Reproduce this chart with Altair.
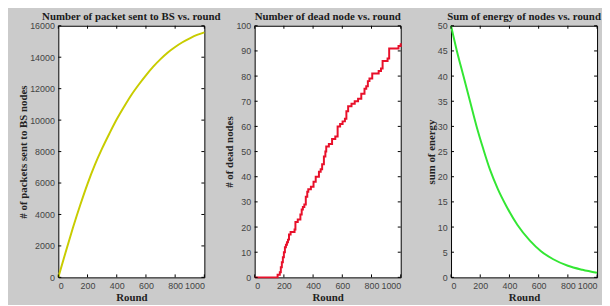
import altair as alt
import pandas as pd

# ---- data ----
pk_round = [0, 50, 100, 150, 200, 250, 300, 350, 400, 450, 500, 550, 600, 650, 700, 750, 800, 850, 900, 950, 1000]
pk_value = [0, 1600, 3150, 4600, 5950, 7150, 8200, 9150, 10050, 10850, 11600, 12250, 12850, 13400, 13880, 14300, 14650, 14950, 15200, 15420, 15580]

dead_round = [0, 157, 172, 179, 186, 193, 200, 207, 214, 221, 228, 235, 246, 273, 279, 295, 313, 322, 330, 340, 350, 360, 367, 385, 403, 418, 440, 452, 462, 474, 484, 490, 508, 530, 552, 568, 585, 602, 618, 628, 640, 663, 685, 708, 730, 752, 764, 775, 786, 805, 849, 865, 876, 910, 921, 985, 1000]
dead_value = [0, 1, 2, 4, 6, 8, 10, 12, 13, 14, 15, 17, 18, 19, 22, 23, 25, 27, 28, 29, 32, 34, 35, 36, 38, 40, 42, 43, 45, 48, 50, 52, 53, 55, 56, 60, 61, 62, 63, 66, 68, 69, 70, 71, 73, 75, 76, 78, 79, 81, 82, 83, 86, 87, 91, 92, 93]

en_round = [0, 40, 85, 130, 175, 220, 268, 320, 380, 455, 540, 616, 700, 800, 900, 1000]
en_value = [50, 45, 40, 35, 30, 25.6, 21.3, 17.6, 14.1, 10.4, 7.3, 5.2, 3.6, 2.3, 1.5, 0.9]

x_ticks = [0, 200, 400, 600, 800, 1000]
pk_ticks = [0, 2000, 4000, 6000, 8000, 10000, 12000, 14000, 16000]
dead_ticks = [0, 10, 20, 30, 40, 50, 60, 70, 80, 90, 100]
en_ticks = [0, 5, 10, 15, 20, 25, 30, 35, 40, 45, 50]

titles = ["Number of packet sent to BS vs. round",
          "Number of dead node vs. round",
          "Sum of energy of nodes vs. round"]
y_titles = ["# of packets sent to BS nodes", "# of dead nodes", "sum of energy"]

W, H = 148, 255
SERIF = "Liberation Serif"
SANS = "Liberation Sans"


def panel(rounds, values, ydom, yticks, ytitle, title, color, interp):
    df = pd.DataFrame({"Round": rounds, "v": values})
    xs = alt.Scale(domain=[0, 1000], nice=False)
    ys = alt.Scale(domain=ydom, nice=False)
    xa = alt.Axis(values=x_ticks, title="Round", format="d")
    ya = alt.Axis(values=yticks, title=ytitle, format="d")
    line = alt.Chart(df).mark_line(color=color, strokeWidth=2, interpolate=interp).encode(
        x=alt.X("Round:Q", scale=xs, axis=xa),
        y=alt.Y("v:Q", scale=ys, axis=ya),
    )
    xt = pd.DataFrame({"t": x_ticks})
    yt = pd.DataFrame({"t": yticks})
    tk = dict(color="black", strokeWidth=1)
    bottom = alt.Chart(xt).mark_rule(**tk).encode(
        x=alt.X("t:Q", scale=xs, axis=xa), y=alt.value(H), y2=alt.value(H - 3))
    top = alt.Chart(xt).mark_rule(**tk).encode(
        x=alt.X("t:Q", scale=xs, axis=xa), y=alt.value(0), y2=alt.value(3))
    left = alt.Chart(yt).mark_rule(**tk).encode(
        y=alt.Y("t:Q", scale=ys, axis=ya), x=alt.value(0), x2=alt.value(3))
    right = alt.Chart(yt).mark_rule(**tk).encode(
        y=alt.Y("t:Q", scale=ys, axis=ya), x=alt.value(W), x2=alt.value(W - 3))
    return alt.layer(line, bottom, top, left, right).properties(
        width=W, height=H,
        title=alt.TitleParams(title, font=SERIF, fontSize=11, fontWeight="bold",
                              color="#1a1a1a", offset=0, anchor="middle"))


p1 = panel(pk_round, pk_value, [0, 16000], pk_ticks, y_titles[0], titles[0], "#c8cc00", "monotone")
p2 = panel(dead_round, dead_value, [0, 100], dead_ticks, y_titles[1], titles[1], "#e8102a", "step-after")
p3 = panel(en_round, en_value, [0, 50], en_ticks, y_titles[2], titles[2], "#33e633", "monotone")

chart = alt.hconcat(p1, p2, p3, spacing=51, bounds="flush").properties(
    background="#cbcbcb",
    padding={"left": 9, "top": 0, "right": 0, "bottom": 0},
).configure_view(
    fill="white", stroke="black", strokeWidth=1
).configure_axis(
    grid=False, ticks=False, domain=False,
    labelFont=SANS, labelFontSize=9, labelColor="#444444", labelPadding=4,
    labelOverlap=False,
    titleFont=SERIF, titleFontSize=11, titleFontWeight="bold", titleColor="#222222",
    titlePadding=1,
)

chart.save("out.html", embed_options={"renderer": "svg", "actions": False})
